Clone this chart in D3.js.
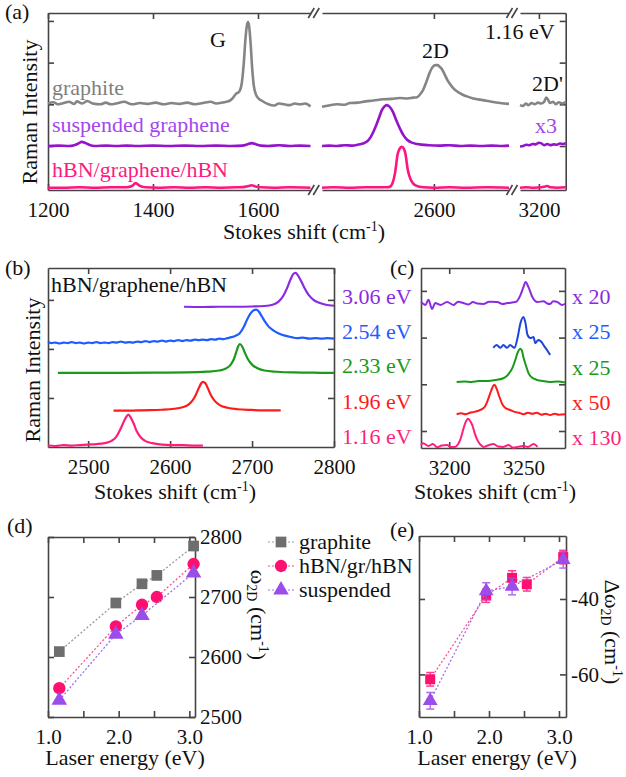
<!DOCTYPE html>
<html>
<head>
<meta charset="utf-8">
<script src="https://cdn.jsdelivr.net/npm/d3@7"></script>
<style>
  body { margin: 0; background: #fff; }
  svg { display: block; }
</style>
</head>
<body>
<div id="chart"></div>
<script>
// ---------- data ----------

// (a) spectra at 1.16 eV: [shift, intensity above the trace's own baseline]
const graphiteA = [
  [1200,0.02],[1210,0.05],[1220,0.0],[1230,0.03],[1240,0.06],[1250,0.01],[1255,0.07],[1265,0.02],[1275,0.08],
  [1285,0.02],[1300,0.0],[1310,0.04],[1320,0.0],[1330,0.02],[1345,0.06],[1360,0.0],[1375,0.03],[1390,0.01],
  [1405,0.04],[1420,0.0],[1435,0.03],[1450,0.01],[1465,0.04],[1480,0.0],[1495,0.03],[1510,0.06],[1520,0.02],
  [1535,0.05],[1545,0.08],[1552,0.15],[1558,0.25],[1564,0.3],[1569,0.5],[1573,1.0],[1576,1.55],[1579,1.9],
  [1581,1.97],[1583,1.88],[1586,1.45],[1589,0.85],[1592,0.45],[1596,0.24],[1601,0.14],[1608,0.08],[1620,0.0],
  [1630,-0.03],[1640,0.02],[1650,0.0],[1660,-0.02],[1670,0.02],[1680,0.0],[1690,0.02],[1700,-0.05],
  [2387,-0.06],[2400,-0.03],[2415,0.0],[2430,-0.01],[2440,0.03],[2455,0.04],[2470,0.07],[2485,0.09],[2503,0.12],
  [2520,0.13],[2535,0.15],[2550,0.14],[2560,0.16],[2568,0.17],[2575,0.26],[2580,0.36],[2586,0.55],[2592,0.76],
  [2598,0.9],[2603,0.94],[2607,0.94],[2611,0.9],[2615,0.85],[2620,0.73],[2625,0.6],[2630,0.5],[2636,0.4],
  [2645,0.3],[2655,0.23],[2663,0.19],[2675,0.14],[2693,0.1],[2710,0.06],[2726,0.03],[2743,0.01],
  [3164,-0.02],[3170,-0.04],[3175,0.02],[3180,-0.02],[3186,0.03],[3192,0.0],[3198,0.04],[3204,0.02],[3210,0.06],
  [3214,0.16],[3217,0.12],[3221,0.03],[3227,0.06],[3232,0.0],[3238,0.05],[3244,0.02],[3251,0.05]
];
const suspendedA = [
  [1200,0.0],[1220,0.01],[1240,0.0],[1250,0.02],[1258,0.06],[1264,0.1],[1270,0.08],[1278,0.03],[1290,0.0],
  [1310,0.01],[1330,0.0],[1350,0.01],[1370,0.0],[1400,0.01],[1430,0.0],[1460,0.01],[1490,0.0],[1520,0.01],
  [1550,0.0],[1570,0.01],[1580,0.04],[1588,0.07],[1596,0.04],[1605,0.01],[1620,0.0],[1640,0.02],[1660,0.0],
  [1680,0.01],[1700,0.0],
  [2387,0.0],[2400,0.01],[2415,0.0],[2430,0.02],[2445,0.01],[2455,0.03],[2465,0.06],[2472,0.1],[2480,0.22],
  [2488,0.43],[2495,0.66],[2501,0.86],[2506,0.95],[2510,0.98],[2515,0.95],[2522,0.82],[2528,0.63],[2535,0.43],
  [2542,0.26],[2549,0.15],[2558,0.08],[2568,0.05],[2590,0.02],[2610,0.01],[2630,0.02],[2650,0.0],[2670,0.01],
  [2690,0.0],[2710,0.01],[2730,0.0],[2743,0.01],
  [3164,-0.01],[3170,0.0],[3176,0.03],[3182,0.02],[3188,0.05],[3194,0.04],[3200,0.08],[3204,0.07],[3210,0.02],
  [3216,0.05],[3222,0.02],[3228,0.04],[3234,0.03],[3240,0.06],[3246,0.05],[3251,0.07]
];
const hbnA = [
  [1200,0.0],[1230,0.0],[1260,0.01],[1290,0.0],[1320,0.01],[1350,0.01],[1360,0.04],[1367,0.11],[1374,0.05],
  [1385,0.01],[1410,0.0],[1440,0.01],[1470,0.0],[1500,0.01],[1530,0.0],[1560,0.01],[1575,0.02],[1582,0.04],
  [1588,0.06],[1595,0.03],[1605,0.01],[1630,0.0],[1660,0.01],[1700,0.0],
  [2387,0.0],[2410,0.01],[2440,0.0],[2470,0.01],[2495,0.01],[2510,0.01],[2516,0.02],[2521,0.1],[2526,0.35],
  [2531,0.8],[2535,0.94],[2539,0.98],[2543,0.93],[2546,0.8],[2550,0.45],[2555,0.22],[2560,0.11],[2566,0.05],
  [2580,0.01],[2600,0.0],[2630,0.01],[2660,0.0],[2700,0.01],[2743,0.0],
  [3164,0.0],[3175,0.01],[3190,0.0],[3205,0.01],[3212,0.03],[3216,0.04],[3221,0.01],[3235,0.0],[3251,0.01]
];
const offsetsA = [2, 1, 0];
const namesA = ['graphite', 'suspended graphene', 'hBN/graphene/hBN'];

// (b) hBN/graphene/hBN 2D band, stacked, one trace per laser energy
const laserLabels = ['3.06 eV', '2.54 eV', '2.33 eV', '1.96 eV', '1.16 eV'];
const b306 = [
  [2617,2.86],[2640,2.855],[2660,2.86],[2680,2.86],[2700,2.865],[2715,2.875],[2725,2.9],[2732,2.96],[2738,3.08],
  [2743,3.25],[2747,3.42],[2750,3.52],[2753,3.55],[2756,3.5],[2760,3.38],[2764,3.24],[2769,3.1],[2775,3.0],
  [2782,2.94],[2790,2.9],[2800,2.88]
];
const b254 = [
  [2451,2.15],[2455,2.12],[2460,2.13],[2465,2.11],[2470,2.13],[2475,2.12],[2480,2.14],[2485,2.12],[2490,2.13],
  [2495,2.11],[2500,2.13],[2505,2.12],[2510,2.14],[2515,2.12],[2520,2.13],[2525,2.12],[2530,2.14],[2535,2.13],
  [2540,2.15],[2545,2.13],[2550,2.14],[2555,2.13],[2560,2.15],[2565,2.14],[2570,2.16],[2575,2.14],[2580,2.16],
  [2585,2.15],[2590,2.17],[2595,2.15],[2600,2.17],[2605,2.16],[2610,2.18],[2615,2.16],[2620,2.18],[2625,2.17],
  [2630,2.19],[2635,2.18],[2640,2.19],[2645,2.18],[2650,2.2],[2655,2.19],[2660,2.21],[2665,2.2],[2670,2.22],
  [2675,2.24],[2680,2.27],[2685,2.32],[2690,2.45],[2694,2.6],[2698,2.72],[2702,2.79],[2705,2.8],[2708,2.77],
  [2712,2.66],[2716,2.55],[2720,2.46],[2725,2.39],[2732,2.32],[2740,2.27],[2748,2.24],[2755,2.22],[2762,2.23],
  [2770,2.21],[2778,2.22],[2785,2.21],[2792,2.22],[2800,2.21]
];
const b233 = [
  [2463,1.51],[2500,1.51],[2540,1.51],[2580,1.515],[2620,1.52],[2645,1.535],[2660,1.56],[2668,1.6],[2674,1.68],
  [2678,1.8],[2681,1.95],[2683,2.05],[2685,2.1],[2688,2.05],[2691,1.93],[2695,1.79],[2700,1.68],[2706,1.61],
  [2715,1.56],[2730,1.535],[2750,1.52],[2775,1.515],[2800,1.51]
];
const b196 = [
  [2531,0.74],[2545,0.74],[2560,0.745],[2575,0.75],[2590,0.76],[2605,0.78],[2615,0.81],[2622,0.86],[2627,0.94],
  [2631,1.05],[2635,1.2],[2638,1.3],[2640,1.33],[2643,1.3],[2646,1.2],[2650,1.05],[2655,0.93],[2661,0.85],
  [2670,0.8],[2682,0.77],[2700,0.755],[2720,0.745],[2735,0.745]
];
const b116 = [
  [2451,0.03],[2460,0.02],[2470,0.04],[2480,0.03],[2490,0.04],[2500,0.05],[2510,0.06],[2520,0.08],[2528,0.12],
  [2534,0.2],[2539,0.35],[2543,0.5],[2546,0.6],[2549,0.66],[2552,0.6],[2555,0.5],[2559,0.33],[2564,0.2],
  [2570,0.12],[2578,0.08],[2590,0.05],[2600,0.04],[2615,0.04],[2630,0.03],[2640,0.03]
];

// (c) 2D' band, stacked, with the scale factors applied
const scaleLabels = ['x 20', 'x 25', 'x 25', 'x 50', 'x 130'];
const c306 = [
  [3181,3.76],[3184,3.7],[3186,3.81],[3188.5,3.61],[3190.5,3.74],[3194,3.7],[3198.6,3.76],[3203,3.7],[3206,3.77],
  [3209.5,3.74],[3213,3.71],[3216,3.76],[3219,3.73],[3223,3.72],[3227,3.77],[3232.4,3.76],[3236,3.72],[3239,3.74],
  [3244.6,3.76],[3248,3.91],[3250,4.08],[3251.4,4.19],[3253.4,4.08],[3256,3.87],[3259.5,3.76],[3263.5,3.78],
  [3266,3.73],[3268,3.72],[3270,3.78],[3273,3.76],[3276,3.7],[3278,3.72]
];
const c254 = [
  [3229.7,2.78],[3232,2.84],[3234.5,2.78],[3236.5,2.84],[3239,2.78],[3241,2.84],[3244,2.78],[3246,2.99],[3248,3.31],
  [3250,3.44],[3251.4,3.31],[3252.7,3.06],[3254.7,2.99],[3256.8,3.01],[3258,2.88],[3260,2.95],[3262.8,2.88],
  [3263.5,2.84],[3266,2.73],[3268,2.63]
];
const c233 = [
  [3205,2.05],[3210,2.06],[3215,2.05],[3220,2.07],[3226,2.07],[3231,2.09],[3236.5,2.13],[3240,2.22],[3242.6,2.35],
  [3244.5,2.52],[3246,2.67],[3248,2.76],[3249,2.72],[3250,2.58],[3251.7,2.4],[3253.4,2.24],[3256,2.14],[3259.5,2.09],
  [3263,2.07],[3268,2.05],[3273,2.06],[3278,2.04]
];
const c196 = [
  [3205,1.36],[3208,1.38],[3211,1.36],[3214,1.39],[3217,1.41],[3221,1.45],[3224,1.52],[3226,1.66],[3228,1.84],
  [3229.5,1.96],[3230.5,1.99],[3232,1.9],[3233.5,1.76],[3236,1.56],[3238,1.49],[3241,1.45],[3244,1.41],[3247,1.39],
  [3250,1.36],[3253,1.39],[3256,1.37],[3259,1.39],[3262,1.35],[3265,1.37],[3268,1.34],[3271,1.37],[3274,1.35],[3278,1.36]
];
const c116 = [
  [3181,0.7],[3182.4,0.74],[3186,0.68],[3189,0.72],[3191.9,0.65],[3195,0.69],[3198.6,0.7],[3201,0.66],[3204,0.66],
  [3206,0.72],[3207.4,0.81],[3209,0.98],[3210.8,1.17],[3212.8,1.26],[3214,1.22],[3215.5,1.13],[3217,0.97],
  [3218.9,0.81],[3221,0.71],[3223,0.66],[3226,0.69],[3229.7,0.72],[3233,0.67],[3236.5,0.66],[3240,0.7],
  [3243.2,0.64],[3246,0.66],[3250,0.68],[3253,0.66],[3256.8,0.72],[3259.5,0.66]
];

// (d) 2D position vs laser energy, (e) shift relative to graphite
const energies = [1.16, 1.96, 2.33, 2.54, 3.06];
const energiesSusp = [1.16, 1.96, 2.33, 3.06];
const w2dGraphite = [2609, 2690, 2722, 2736, 2785];
const w2dHbn = [2548, 2651, 2687, 2700, 2755];
const w2dSusp = [2528, 2638, 2669, 2740];
const dwHbn = [-61.3, -39.1, -34.4, -36.1, -28.9];
const dwHbnErr = [1.8, 1.8, 1.9, 1.8, 1.8];
const dwSusp = [-67.0, -37.9, -36.7, -29.6];
const dwSuspErr = [2.2, 2.2, 2.2, 2.2];
const legendNames = ['graphite', 'hBN/gr/hBN', 'suspended'];

// ---------- drawing ----------
const FONT = "'Liberation Serif', 'DejaVu Serif', serif";
const FS = 22;      // labels and titles
const FS_TICK = 21; // tick labels
const AXIS = '#444';

const colA = ['#858585', '#9414cc', '#ff1482'];
const colAText = ['#7f7f7f', '#a347f0', '#ff1a80'];
const colLaser = ['#8a2be2', '#1f5cff', '#1a9a1a', '#ff1a1a', '#ff1f7a'];
const colLaserC = ['#8a2be2', '#1d45dc', '#1a9a1a', '#ff1a1a', '#ff1f7a'];
const colD = ['#6e6e6e', '#ff0f6f', '#9b4dea'];
const colLeg = ['#9a9a9a', '#ff4f8f', '#a46cf0'];

const svg = d3.select('#chart').append('svg')
  .attr('width', 626).attr('height', 777)
  .attr('font-family', FONT);

function addAxis(g, gen, tx, ty) {
  const a = g.append('g').attr('transform', `translate(${tx},${ty})`).call(gen);
  a.attr('font-family', FONT).attr('font-size', FS_TICK);
  a.select('.domain').attr('stroke', AXIS).attr('stroke-width', 1.6);
  a.selectAll('.tick line').attr('stroke', AXIS).attr('stroke-width', 1.6);
  a.selectAll('.tick text').attr('fill', '#111');
  return a;
}

function frame(g, x, y, o) {
  const [xa, xb] = x.range();
  const [yb, ya] = y.range();
  addAxis(g, d3.axisBottom(x).tickValues(o.xt).tickSizeInner(-6).tickSizeOuter(0)
    .tickPadding(o.pad || 12).tickFormat(o.xf || d3.format('d')), 0, yb);
  addAxis(g, d3.axisTop(x).tickValues(o.xt).tickSizeInner(-6).tickSizeOuter(0).tickFormat(''), 0, ya);
  addAxis(g, d3.axisLeft(y).tickValues(o.yt).tickSizeInner(-6).tickSizeOuter(0).tickFormat(''), xa, 0);
  addAxis(g, d3.axisRight(y).tickValues(o.yt).tickSizeInner(-6).tickSizeOuter(0)
    .tickPadding(5).tickFormat(o.yf || ''), xb, 0);
}

// text with sub/superscripts: parts = [[string, dy, size]]
function richText(x, y, parts, opts = {}) {
  const t = svg.append('text')
    .attr('font-size', FS).attr('fill', opts.fill || '#111')
    .attr('text-anchor', opts.anchor || 'start');
  if (opts.rotate) t.attr('transform', `translate(${x},${y}) rotate(${opts.rotate})`);
  else t.attr('x', x).attr('y', y);
  parts.forEach(([s, dy, size]) => {
    t.append('tspan').attr('dy', dy || 0).attr('font-size', size || FS).text(s);
  });
  return t;
}
const stokesParts = [['Stokes shift (cm'], ['-1', -8, 14], [')', 8]];

function label(x, y, s, fill, anchor) {
  return svg.append('text').attr('x', x).attr('y', y).attr('font-size', FS)
    .attr('fill', fill || '#111').attr('text-anchor', anchor || 'start').text(s);
}

// ===== (a) =====
const gA = svg.append('g');
const yA = d3.scaleLinear().domain([-0.055, 4.19]).range([190, 13]);
const segs = [
  d3.scaleLinear().domain([1200, 1700]).range([48, 310.5]),
  d3.scaleLinear().domain([2387, 2743]).range([322, 509]),
  d3.scaleLinear().domain([3164, 3251]).range([520, 565.7])
];
const segTicks = [[1200, 1400, 1600], [2600], [3200]];

segs.forEach((x, i) => {
  addAxis(gA, d3.axisBottom(x).tickValues(segTicks[i]).tickSizeInner(-6).tickSizeOuter(0)
    .tickPadding(12).tickFormat(d3.format('d')), 0, 190);
  addAxis(gA, d3.axisTop(x).tickValues(segTicks[i]).tickSizeInner(-6).tickSizeOuter(0).tickFormat(''), 0, 13);
});
addAxis(gA, d3.axisLeft(yA).tickValues([1, 2, 3, 4]).tickSizeInner(-6).tickSizeOuter(0).tickFormat(''), 48, 0);
addAxis(gA, d3.axisRight(yA).tickValues([1, 2, 3, 4]).tickSizeInner(-6).tickSizeOuter(0).tickFormat(''), 565.7, 0);

// axis break marks
for (let i = 0; i < 2; i++) {
  const cx = (segs[i].range()[1] + segs[i + 1].range()[0]) / 2;
  [190, 13].forEach(yy => {
    [-5, 0].forEach(k => {
      gA.append('line')
        .attr('x1', cx + k - 3).attr('y1', yy + 5)
        .attr('x2', cx + k + 3).attr('y2', yy - 5)
        .attr('stroke', AXIS).attr('stroke-width', 1.6);
    });
  });
}

[graphiteA, suspendedA, hbnA].forEach((data, si) => {
  segs.forEach(x => {
    const [d0, d1] = x.domain();
    const pts = data.filter(p => p[0] >= d0 && p[0] <= d1);
    gA.append('path')
      .attr('d', d3.line().curve(d3.curveMonotoneX)
        .x(p => x(p[0])).y(p => yA(p[1] + offsetsA[si]))(pts))
      .attr('fill', 'none').attr('stroke', colA[si])
      .attr('stroke-width', 2.6).attr('stroke-linejoin', 'round');
  });
});

label(5, 19, '(a)');
richText(37, 112, [['Raman Intensity']], { rotate: -90, anchor: 'middle' });
richText(304, 239, stokesParts, { anchor: 'middle' });
label(210, 47, 'G');
label(422, 58, '2D');
label(485, 39, '1.16 eV');
label(532, 91, "2D'");
label(535, 133, 'x3', colAText[1]);
label(52, 95, namesA[0], colAText[0]);
label(52, 132, namesA[1], colAText[1]);
label(52, 177, namesA[2], colAText[2]);

// ===== (b) =====
const gB = svg.append('g');
const xB = d3.scaleLinear().domain([2451, 2800]).range([48, 334]);
const yB = d3.scaleLinear().domain([0, 3.65]).range([447, 268]);
frame(gB, xB, yB, { xt: [2500, 2600, 2700, 2800], yt: [1, 2, 3] });
[b306, b254, b233, b196, b116].forEach((data, i) => {
  gB.append('path')
    .attr('d', d3.line().curve(d3.curveMonotoneX).x(p => xB(p[0])).y(p => yB(p[1]))(data))
    .attr('fill', 'none').attr('stroke', colLaser[i]).attr('stroke-width', 2.2)
    .attr('stroke-linejoin', 'round');
});
const labelYB = [304, 339, 373, 409, 444];
laserLabels.forEach((s, i) => label(342, labelYB[i], s, colLaser[i]));
label(5, 275, '(b)');
label(51, 292, 'hBN/graphene/hBN');
richText(40, 370, [['Raman Intensity']], { rotate: -90, anchor: 'middle' });
richText(175, 499, stokesParts, { anchor: 'middle' });

// ===== (c) =====
const gC = svg.append('g');
const xC = d3.scaleLinear().domain([3181, 3278]).range([421, 565]);
const yC = d3.scaleLinear().domain([0.636, 4.49]).range([448, 268]);
frame(gC, xC, yC, { xt: [3200, 3250], yt: [1, 2, 3, 4] });
[c306, c254, c233, c196, c116].forEach((data, i) => {
  gC.append('path')
    .attr('d', d3.line().curve(d3.curveMonotoneX).x(p => xC(p[0])).y(p => yC(p[1]))(data))
    .attr('fill', 'none').attr('stroke', colLaserC[i]).attr('stroke-width', 2)
    .attr('stroke-linejoin', 'round');
});
const labelYC = [304, 339, 375, 410, 445];
scaleLabels.forEach((s, i) => label(572, labelYC[i], s, colLaser[i]));
label(390, 275, '(c)');
richText(495, 499, stokesParts, { anchor: 'middle' });

// ===== (d) =====
const sym = [d3.symbolSquare, d3.symbolCircle, d3.symbolTriangle];
const symSize = [115, 120, 105];
const eFmt = d => (d % 1 === 0 ? d.toFixed(1) : '');

const gD = svg.append('g');
const xD = d3.scaleLinear().domain([1.0, 3.08]).range([48, 195]);
const yD = d3.scaleLinear().domain([2500, 2800]).range([717, 537]);
frame(gD, xD, yD, { xt: [1.0, 1.5, 2.0, 2.5, 3.0], xf: eFmt, yt: [2500, 2600, 2700, 2800], yf: d => d });

const seriesD = [
  { e: energies, v: w2dGraphite },
  { e: energies, v: w2dHbn },
  { e: energiesSusp, v: w2dSusp }
];
seriesD.forEach((s, i) => {
  const pts = s.e.map((e, k) => [e, s.v[k]]);
  gD.append('path')
    .attr('d', d3.line().x(p => xD(p[0])).y(p => yD(p[1]))(pts))
    .attr('fill', 'none').attr('stroke', colLeg[i]).attr('stroke-width', 1.3)
    .attr('stroke-dasharray', '2,2');
  gD.selectAll(null).data(pts).join('path')
    .attr('transform', p => `translate(${xD(p[0])},${yD(p[1])})`)
    .attr('d', d3.symbol(sym[i], symSize[i]))
    .attr('fill', colD[i]);
});
label(7, 533, '(d)');
richText(251, 615, [['ω'], ['2D', 4, 14], [' (cm', -4], ['-1', -8, 14], [')', 8]], { rotate: 90, anchor: 'middle' });
richText(125, 765, [['Laser energy (eV)']], { anchor: 'middle' });

// legend
const legY = [542, 566, 590];
legendNames.forEach((name, i) => {
  gD.append('line').attr('x1', 268).attr('x2', 295).attr('y1', legY[i]).attr('y2', legY[i])
    .attr('stroke', colLeg[i]).attr('stroke-width', 1.2).attr('stroke-dasharray', '2,2');
  gD.append('path').attr('transform', `translate(281,${legY[i]})`)
    .attr('d', d3.symbol(sym[i], symSize[i])).attr('fill', colD[i]);
  label(299, legY[i] + 7, name);
});

// ===== (e) =====
const gE = svg.append('g');
const xE = d3.scaleLinear().domain([1.0, 3.1]).range([419, 566]);
const yE = d3.scaleLinear().domain([-71.3, -23.3]).range([717, 536]);
frame(gE, xE, yE, { xt: [1.0, 1.5, 2.0, 2.5, 3.0], xf: eFmt, yt: [-60, -40], yf: d => String(d) });

const seriesE = [
  { e: energies, v: dwHbn, err: dwHbnErr, c: 1 },
  { e: energiesSusp, v: dwSusp, err: dwSuspErr, c: 2 }
];
seriesE.forEach(s => {
  const pts = s.e.map((e, k) => [e, s.v[k], s.err[k]]);
  const col = colD[s.c];
  gE.append('path')
    .attr('d', d3.line().x(p => xE(p[0])).y(p => yE(p[1]))(pts))
    .attr('fill', 'none').attr('stroke', colLeg[s.c]).attr('stroke-width', 1.3)
    .attr('stroke-dasharray', '2,2');
  const eb = gE.selectAll(null).data(pts).join('g').attr('opacity', 0.8);
  eb.append('line')
    .attr('x1', p => xE(p[0])).attr('x2', p => xE(p[0]))
    .attr('y1', p => yE(p[1] - p[2])).attr('y2', p => yE(p[1] + p[2]))
    .attr('stroke', col).attr('stroke-width', 1.5);
  [-1, 1].forEach(sgn => {
    eb.append('line')
      .attr('x1', p => xE(p[0]) - 4).attr('x2', p => xE(p[0]) + 4)
      .attr('y1', p => yE(p[1] + sgn * p[2])).attr('y2', p => yE(p[1] + sgn * p[2]))
      .attr('stroke', col).attr('stroke-width', 1.5);
  });
  gE.selectAll(null).data(pts).join('path')
    .attr('transform', p => `translate(${xE(p[0])},${yE(p[1])})`)
    .attr('d', d3.symbol(s.c === 1 ? d3.symbolSquare : d3.symbolTriangle, s.c === 1 ? 100 : 95))
    .attr('fill', col);
});
label(390, 537, '(e)');
richText(605, 632, [['Δω'], ['2D', 4, 14], [' (cm', -4], ['-1', -8, 14], [')', 8]], { rotate: 90, anchor: 'middle' });
richText(497, 765, [['Laser energy (eV)']], { anchor: 'middle' });
</script>
</body>
</html>
